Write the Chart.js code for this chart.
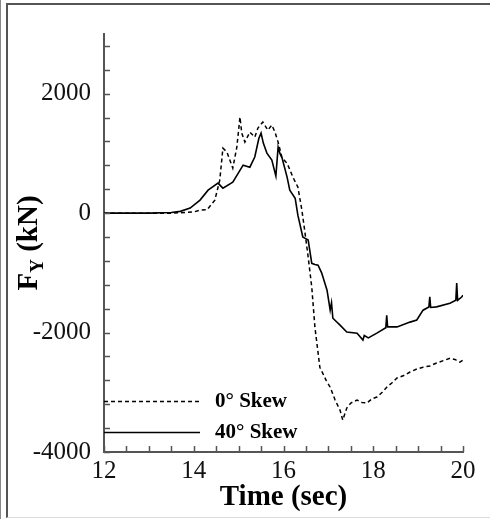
<!DOCTYPE html>
<html>
<head>
<meta charset="utf-8">
<script src="https://cdn.jsdelivr.net/npm/chart.js@4"></script>
<style>
    body { margin: 0; background: #fff; overflow: hidden; }
    #borda1 { position: absolute; left: 0; top: 0; width: 1px; height: 519px; background: #888; }
    #borda2 { position: absolute; left: 6px; top: 3px; width: 484px; height: 515px; box-sizing: border-box;
              border-left: 2px solid #555; border-top: 2px solid #555; border-bottom: 1px solid #ddd; }
    #caixa { position: absolute; left: 8px; top: 6px; width: 482px; height: 511px; }
</style>
</head>
<body>
<div id="borda1"></div>
<div id="borda2"></div>
<div id="caixa"><canvas id="myChart"></canvas></div>
<script>
    // 0 graus (tracejado)
    let tempo0 = [12, 13.5, 14.0, 14.14, 14.3, 14.47, 14.58, 14.65, 14.74, 14.87, 14.96, 15.03, 15.07, 15.14, 15.25, 15.36,
        15.43, 15.54, 15.65, 15.74, 15.81, 15.88, 15.97, 16.08, 16.21, 16.32, 16.41, 16.48, 16.55, 16.63, 16.7, 16.81,
        16.95, 17.04, 17.15, 17.26, 17.32, 17.41, 17.5, 17.64, 17.75, 17.86, 17.97, 18.08, 18.2, 18.3, 18.42, 18.53,
        18.68, 18.82, 18.97, 19.11, 19.26, 19.41, 19.56, 19.71, 19.82, 19.93, 20];
    let forca0 = [0, 0, 20, 50, 60, 218, 553, 1089, 1022, 753, 1106, 1608, 1340, 1190, 1357, 1273,
        1425, 1525, 1390, 1475, 1357, 1190, 920, 837, 603, 436, 50, -335, -737, -1240, -1910, -2580,
        -2800, -2915, -3130, -3300, -3465, -3265, -3180, -3130, -3170, -3180, -3110, -3080, -3000, -2915, -2840, -2760,
        -2720, -2660, -2610, -2580, -2560, -2510, -2470, -2430, -2450, -2495, -2460];

    // 40 graus (continuo)
    let tempo40 = [12, 13, 13.5, 13.7, 13.92, 14.14, 14.32, 14.54, 14.65, 14.87, 15.1, 15.25, 15.36, 15.45, 15.5, 15.55,
        15.63, 15.74, 15.83, 15.88, 15.92, 15.97, 16.08, 16.14, 16.26, 16.32, 16.43, 16.5, 16.55, 16.63, 16.7, 16.77,
        16.85, 16.97, 17.04, 17.07, 17.1, 17.26, 17.41, 17.64, 17.77, 17.8, 17.89, 18.08, 18.28, 18.3, 18.32, 18.53,
        18.82, 18.97, 19.11, 19.24, 19.26, 19.28, 19.41, 19.71, 19.84, 19.86, 19.88, 19.97, 20];
    let forca40 = [0, 0, 10, 30, 84, 218, 385, 503, 418, 520, 804, 770, 940, 1250, 1340, 1173,
        1005, 888, 620, 1106, 1000, 920, 603, 385, 250, -34, -400, -430, -450, -840, -860, -870,
        -1000, -1290, -1625, -1500, -1760, -1875, -1990, -2010, -2125, -2050, -2090, -2010, -1920, -1710, -1905, -1905,
        -1825, -1790, -1625, -1570, -1400, -1580, -1570, -1510, -1460, -1170, -1460, -1405, -1375];

    let rotulos = ['0° Skew', '40° Skew'];
    let marcasX = [12, 12.5, 13, 13.5, 14, 14.5, 15, 15.5, 16, 16.5, 17, 17.5, 18, 18.5, 19, 19.5, 20];
    let rotulosX = [12, 14, 16, 18, 20];
    let marcasY = [-4000, -3600, -3200, -2800, -2400, -2000, -1600, -1200, -800, -400, 0, 400, 800, 1200, 1600, 2000, 2400, 2800];
    let rotulosY = [-4000, -2000, 0, 2000];

    const fonte = '"Liberation Serif", "Times New Roman", serif';

    function pares(tx, ty) {
        let lista = [];
        for (let i = 0; i < tx.length; i++) {
            lista.push({ x: tx[i], y: ty[i] });
        }
        return lista;
    }

    // marcas para dentro do grafico
    const marcasInternas = {
        id: 'marcasInternas',
        afterDraw(chart) {
            const ctx = chart.ctx;
            const area = chart.chartArea;
            const sx = chart.scales.x;
            const sy = chart.scales.y;
            ctx.save();
            ctx.strokeStyle = '#555';
            ctx.lineWidth = 1.5;
            ctx.beginPath();
            sx.ticks.forEach(function (t) {
                const px = Math.round(sx.getPixelForValue(t.value)) + 0.5;
                ctx.moveTo(px, area.bottom);
                ctx.lineTo(px, area.bottom - 6);
            });
            sy.ticks.forEach(function (t) {
                const py = Math.round(sy.getPixelForValue(t.value)) + 0.5;
                ctx.moveTo(area.left, py);
                ctx.lineTo(area.left + 6, py);
            });
            ctx.stroke();
            ctx.restore();
        }
    };

    // titulo do eixo y com subscrito
    const tituloY = {
        id: 'tituloY',
        afterDraw(chart) {
            const ctx = chart.ctx;
            ctx.save();
            ctx.translate(29, 237);
            ctx.rotate(-Math.PI / 2);
            ctx.fillStyle = '#000';
            ctx.textBaseline = 'alphabetic';
            ctx.font = 'bold 29px ' + fonte;
            const wF = ctx.measureText('F').width;
            const wR = ctx.measureText(' (kN)').width;
            ctx.font = 'bold 19px ' + fonte;
            const wY = ctx.measureText('Y').width;
            let x0 = -(wF + wY + wR) / 2;
            ctx.font = 'bold 29px ' + fonte;
            ctx.fillText('F', x0, 0);
            ctx.font = 'bold 19px ' + fonte;
            ctx.fillText('Y', x0 + wF, 6);
            ctx.font = 'bold 29px ' + fonte;
            ctx.fillText(' (kN)', x0 + wF + wY, 0);
            ctx.restore();
        }
    };

    // legenda dentro do grafico
    const legendaInterna = {
        id: 'legendaInterna',
        afterDraw(chart) {
            const ctx = chart.ctx;
            const area = chart.chartArea;
            ctx.save();
            chart.data.datasets.forEach(function (ds, i) {
                const yy = area.bottom - 51 + i * 31 + 0.5;
                ctx.strokeStyle = '#000';
                ctx.lineWidth = 1.5;
                ctx.setLineDash(ds.borderDash || []);
                ctx.beginPath();
                ctx.moveTo(area.left, yy);
                ctx.lineTo(area.left + 96, yy);
                ctx.stroke();
                ctx.setLineDash([]);
                ctx.fillStyle = '#000';
                ctx.font = 'bold 21px ' + fonte;
                ctx.textBaseline = 'middle';
                ctx.fillText(ds.label, area.left + 111, yy);
            });
            ctx.restore();
        }
    };

    const dados = {
        datasets: [{
            label: rotulos[0],
            data: pares(tempo0, forca0),
            borderColor: '#000',
            borderWidth: 1.5,
            borderDash: [4, 3],
            pointRadius: 0,
            showLine: true,
            tension: 0
        },
        {
            label: rotulos[1],
            data: pares(tempo40, forca40),
            borderColor: '#000',
            borderWidth: 1.6,
            pointRadius: 0,
            showLine: true,
            tension: 0
        }]
    };

    const config = {
        type: 'scatter',
        data: dados,
        options: {
            responsive: true,
            maintainAspectRatio: false,
            animation: false,
            layout: { padding: { top: 28, right: 27, left: 0, bottom: 0 } },
            plugins: { legend: { display: false }, tooltip: { enabled: false } },
            scales: {
                x: {
                    type: 'linear',
                    min: 12,
                    max: 20,
                    afterBuildTicks: function (s) { s.ticks = marcasX.map(v => ({ value: v })); },
                    afterFit: function (s) { s.height = 65; },
                    grid: { drawOnChartArea: false, drawTicks: false },
                    border: { display: true, color: '#555', width: 2 },
                    ticks: {
                        autoSkip: false,
                        maxRotation: 0,
                        padding: 4,
                        color: '#111',
                        font: { family: fonte, size: 25 },
                        callback: function (v) { return rotulosX.includes(v) ? String(v) : ''; }
                    },
                    title: {
                        display: true,
                        text: 'Time (sec)',
                        color: '#000',
                        font: { family: fonte, size: 29, weight: 'bold' },
                        padding: { top: 0, bottom: 2 }
                    }
                },
                y: {
                    type: 'linear',
                    min: -4000,
                    max: 3000,
                    afterBuildTicks: function (s) { s.ticks = marcasY.map(v => ({ value: v })); },
                    afterFit: function (s) { s.width = 96; },
                    grid: { drawOnChartArea: false, drawTicks: false },
                    border: { display: true, color: '#555', width: 2 },
                    ticks: {
                        autoSkip: false,
                        padding: 13,
                        color: '#111',
                        font: { family: fonte, size: 25 },
                        callback: function (v) { return rotulosY.includes(v) ? String(v) : ''; }
                    }
                }
            }
        },
        plugins: [marcasInternas, tituloY, legendaInterna]
    };

    let myChart = new Chart(document.getElementById('myChart'), config);
</script>
</body>
</html>
